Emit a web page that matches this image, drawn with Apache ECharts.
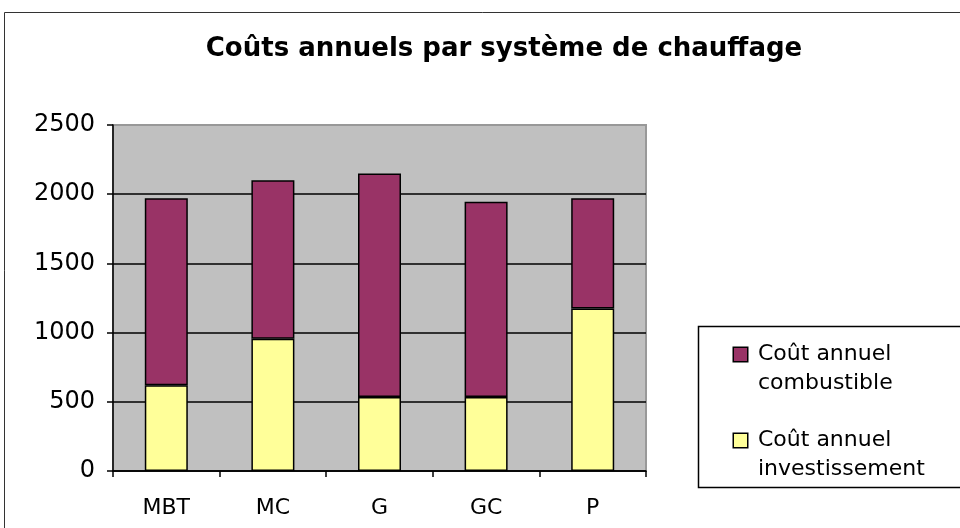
<!DOCTYPE html>
<html>
<head>
<meta charset="utf-8">
<script src="https://cdn.jsdelivr.net/npm/echarts@6/dist/echarts.min.js"></script>
<style>
  html, body { margin: 0; padding: 0; background: #fff; }
  #chart { width: 960px; height: 528px; }
</style>
</head>
<body>
<div id="chart"></div>
<script>
var categories = ['MBT', 'MC', 'G', 'GC', 'P'];
var investissement = [620, 955, 535, 535, 1175];
var combustible = [1350, 1145, 1615, 1410, 795];
var yTicks = [0, 500, 1000, 1500, 2000, 2500];

var font = '"DejaVu Sans", Verdana, sans-serif';
var myChart = echarts.init(document.getElementById('chart'));

myChart.setOption({
    backgroundColor: '#fff',
    animation: false,
    title: {
        text: 'Coûts annuels par système de chauffage',
        left: 499,
        textAlign: 'center',
        top: 31,
        textStyle: { fontFamily: font, fontSize: 26, fontWeight: 'bold', color: '#000' }
    },
    graphic: [
        { type: 'rect', shape: { x: 4.5, y: 12.5, width: 1000, height: 600 },
          style: { fill: 'none', stroke: '#333', lineWidth: 1 }, z: -1 },
        { type: 'rect', shape: { x: 698.5, y: 326.5, width: 400, height: 161 },
          style: { fill: '#fff', stroke: '#000', lineWidth: 1.5 }, z: -1 }
    ],
    legend: {
        orient: 'vertical',
        left: 729,
        top: 340,
        padding: 0,
        itemGap: 28,
        icon: 'none',
        itemWidth: 0,
        itemHeight: 0,
        data: ['Coût annuel combustible', 'Coût annuel investissement'],
        formatter: function (name) {
            var key = name.indexOf('combustible') >= 0 ? 'sqA' : 'sqB';
            var parts = name.split(' ');
            return '{' + key + '|}{gap|}{t|' + parts[0] + ' ' + parts[1] + '}\n{ind|}{t|' + parts[2] + '}';
        },
        textStyle: {
            fontFamily: font,
            fontSize: 22,
            color: '#000',
            lineHeight: 29,
            rich: {
                sqA: { width: 13, height: 13, backgroundColor: '#993366', borderColor: '#000', borderWidth: 1.5 },
                sqB: { width: 13, height: 13, backgroundColor: '#FFFF99', borderColor: '#000', borderWidth: 1.5 },
                gap: { width: 11 },
                ind: { width: 24 },
                t: { fontFamily: font, fontSize: 22, color: '#000', lineHeight: 29 }
            }
        }
    },
    grid: { left: 113, top: 125, right: 314, bottom: 57, show: true, backgroundColor: '#C0C0C0', borderColor: '#999', borderWidth: 2 },
    xAxis: {
        type: 'category',
        data: categories,
        axisLine: { lineStyle: { color: '#000', width: 1.5 } },
        axisTick: { show: true, length: 6, lineStyle: { color: '#000', width: 1.5 } },
        axisLabel: { fontFamily: font, fontSize: 22, color: '#000', margin: 26 }
    },
    yAxis: {
        type: 'value',
        min: yTicks[0],
        max: yTicks[yTicks.length - 1],
        interval: 500,
        axisLine: { show: true, lineStyle: { color: '#000', width: 1.5 } },
        axisTick: { show: true, length: 6, lineStyle: { color: '#000', width: 1.5 } },
        axisLabel: {
            fontFamily: font, fontSize: 24, color: '#000', margin: 18,
            formatter: function (v) { return String(v); }
        },
        splitLine: { show: true, lineStyle: { color: ['#000', '#000', '#000', '#000', '#000', '#999'], width: 1.5 } }
    },
    series: [
        {
            name: 'Coût annuel investissement',
            type: 'bar',
            stack: 'total',
            barWidth: 43,
            data: investissement,
            itemStyle: { color: '#FFFF99', borderColor: '#000', borderWidth: 1.5 }
        },
        {
            name: 'Coût annuel combustible',
            type: 'bar',
            stack: 'total',
            barWidth: 43,
            data: combustible,
            itemStyle: { color: '#993366', borderColor: '#000', borderWidth: 1.5 }
        }
    ]
});
</script>
</body>
</html>
